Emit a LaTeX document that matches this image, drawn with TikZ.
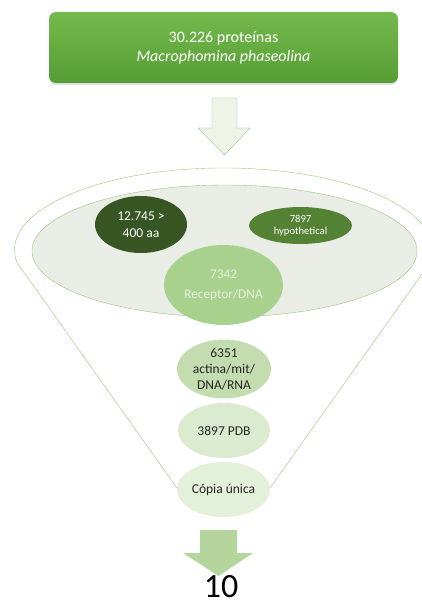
\documentclass[tikz,border=0pt]{standalone}
\usepackage{fontspec}
\setmainfont{Carlito}
\usetikzlibrary{shapes.geometric,shadows}
\definecolor{boxtop}{HTML}{74B94D}
\definecolor{boxbot}{HTML}{559E34}
\definecolor{ringline}{HTML}{98C47E}
\definecolor{ringfill}{HTML}{EAEDE6}
\definecolor{darkleaf}{HTML}{375623}
\definecolor{midleaf}{HTML}{548235}
\definecolor{recfill}{HTML}{A9D18E}
\definecolor{rectext}{HTML}{E4F1DB}
\definecolor{actfill}{HTML}{C3DDB0}
\definecolor{pdbfill}{HTML}{DBEBCF}
\definecolor{copfill}{HTML}{E3F0DA}
\definecolor{arrowfill}{HTML}{EEF5E8}
\definecolor{arrowsolid}{HTML}{B4D69C}
\definecolor{inktext}{HTML}{262626}
\begin{document}
\begin{tikzpicture}[x=1pt,y=-1pt,
  blob/.style={ellipse,inner sep=0pt,align=center},
  level/.style={blob,fill=#1,text=inktext,font=\fontsize{13.5}{16}\selectfont}]
 \clip (0,0) rectangle (422,604);
 % top box
 \node[rounded corners=7pt,minimum width=349pt,minimum height=71pt,
   top color=boxtop,bottom color=boxbot,text=white,align=center,
   drop shadow={opacity=0.25,shadow xshift=0pt,shadow yshift=-2pt},
   font=\fontsize{16}{19}\selectfont] (top) at (223.5,47.5)
   {30.226 proteínas\\\textit{Macrophomina phaseolina}};
 % hollow arrow
 \draw[ringline,fill=arrowfill](212,98)--(237,98)--(237,128)--(250,128)
   --(224.5,155)--(198,128)--(212,128)--cycle;
 % funnel
 \draw[ringline,thin](177,488)--(17.1,262.8)
   arc[start angle=171,end angle=369,x radius=209,y radius=82]--(270,488);
 \node[blob,draw=ringline,fill=ringfill,minimum width=385pt,minimum height=132pt]
   (ring) at (224.5,251) {};
 \node[blob,fill=darkleaf,text=white,minimum width=92pt,minimum height=57pt,
   font=\fontsize{13.5}{17}\selectfont] (aa) at (141,224.5) {12.745 >\\400 aa};
 \node[blob,fill=midleaf,text=white,minimum width=103pt,minimum height=37pt,
   font=\fontsize{10.6}{12}\selectfont] (hyp) at (300.5,225.5) {7897\\hypothetical};
 \node[blob,fill=recfill,text=rectext,minimum width=119pt,minimum height=80pt,
   font=\fontsize{13.3}{20}\selectfont] (rec) at (223.5,285) {7342\\Receptor/DNA};
 \node[level=actfill,minimum width=94pt,minimum height=58pt] (act) at (224,369)
   {6351\\actina/mit/\\DNA/RNA};
 \node[level=pdbfill,minimum width=92pt,minimum height=55pt] (pdb) at (224,430.5)
   {3897 PDB};
 \node[level=copfill,minimum width=93pt,minimum height=55pt] (cop) at (223.5,489.5)
   {Cópia única};
 % solid arrow
 \fill[arrowsolid](200,530)--(237,530)--(237,553)--(253,553)
   --(218.5,576)--(183,553)--(200,553)--cycle;
 \node[font=\fontsize{34}{34}\selectfont,anchor=base,inner sep=0pt] (ten) at (221,597) {10};
\end{tikzpicture}
\end{document}
